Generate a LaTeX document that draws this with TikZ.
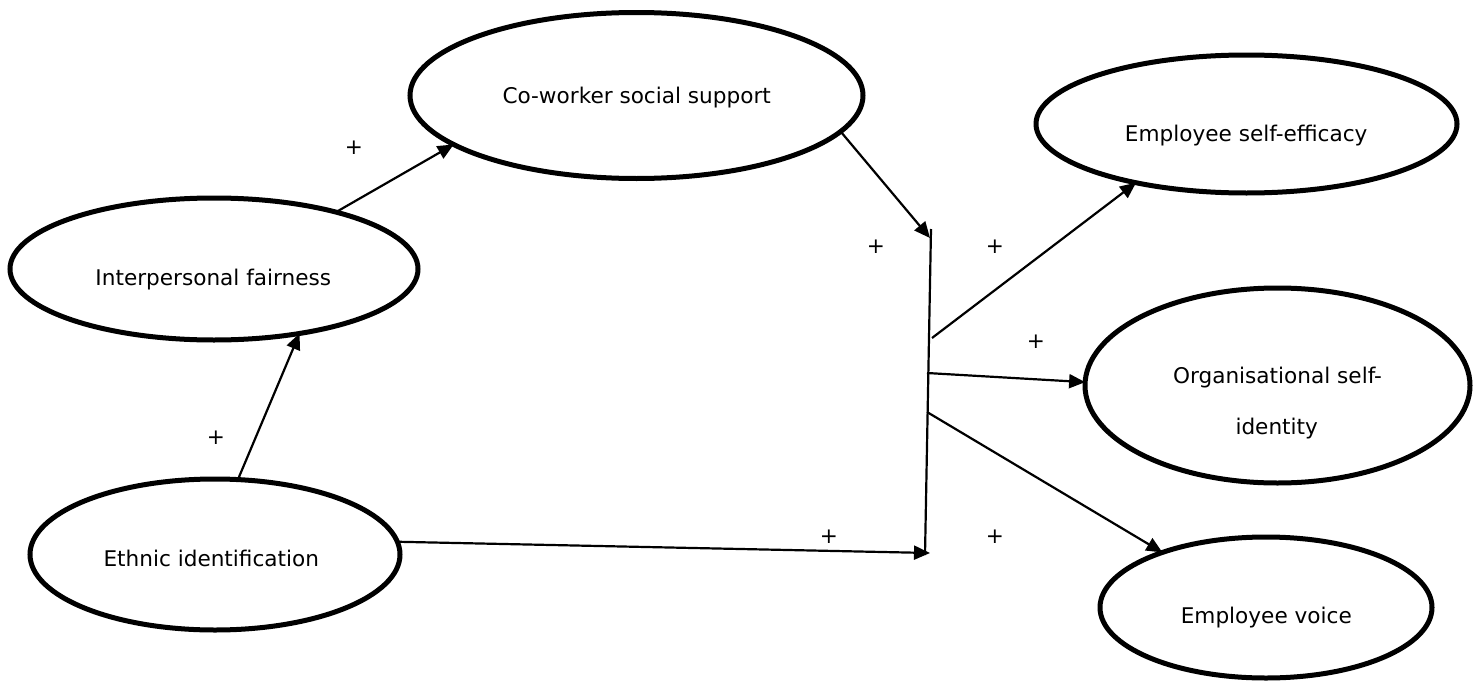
\documentclass[tikz,border=0pt]{standalone}
\usepackage{fontspec}
\setmainfont{DejaVu Sans}
\usetikzlibrary{shapes.geometric,arrows.meta}
\tikzset{
  oval/.style={draw=black, line width=5pt, ellipse, inner sep=0pt, outer sep=0pt},
  lbl/.style={font=\fontsize{21.6}{25}\selectfont, anchor=base, inner sep=0pt},
  plus/.style={font=\fontsize{21.6}{25}\selectfont, inner sep=0pt},
  conn/.style={line width=2.2pt, black},
  arr/.style={conn, -{Triangle[length=16pt,width=14pt]}}
}
\begin{document}
\begin{tikzpicture}[x=1pt,y=-1pt]
\useasboundingbox (0,0) rectangle (1483,680);
% ellipses
\node[oval, minimum width=453pt, minimum height=166pt] (cow) at (636.5,95.5) {};
\node[oval, minimum width=408pt, minimum height=142pt] (ipf) at (214,269) {};
\node[oval, minimum width=370pt, minimum height=151pt] (eth) at (215,554.5) {};
\node[oval, minimum width=421pt, minimum height=138pt] (ese) at (1246.5,124) {};
\node[oval, minimum width=385pt, minimum height=195pt] (osi) at (1277.5,385.5) {};
\node[oval, minimum width=332pt, minimum height=141pt] (evo) at (1266,607.5) {};
% texts
\node[lbl] (cowt) at (636.7,103) {Co-worker social support};
\node[lbl] (ipft) at (213.3,285) {Interpersonal fairness};
\node[lbl] (etht) at (211.3,566.7) {Ethnic identification};
\node[lbl] (eset) at (1246.2,141) {Employee self-efficacy};
\node[lbl] (osit1) at (1277.5,383.3) {Organisational self-};
\node[lbl] (osit2) at (1276.7,434.3) {identity};
\node[lbl] (evot) at (1266.3,623.3) {Employee voice};
% junction coordinates
\coordinate (jt) at (931,229);
\coordinate (jb) at (925,555);
\coordinate (jin1) at (930,238);
\coordinate (jin2) at (930,553);
\coordinate (jo1) at (932,338);
\coordinate (jo2) at (927,373);
\coordinate (jo3) at (927,412);
% connectors
\draw[arr] (eth.73) -- (ipf.-37);
\draw[arr] (ipf.25) -- (cow.195);
\draw[arr] (cow.-10) -- (jin1);
\draw[conn] (jt) -- (jb);
\draw[arr] (eth.4) -- (jin2);
\draw[arr] (jo1) -- (ese.208);
\draw[arr] (jo2) -- (osi.179);
\draw[arr] (jo3) -- (evo.152.4);
% plus signs
\node[plus] (p1) at (354,148) {+};
\node[plus] (p2) at (216,438) {+};
\node[plus] (p3) at (876,247) {+};
\node[plus] (p4) at (995,247) {+};
\node[plus] (p5) at (1036,342) {+};
\node[plus] (p6) at (829,537) {+};
\node[plus] (p7) at (995,537) {+};
\end{tikzpicture}
\end{document}
